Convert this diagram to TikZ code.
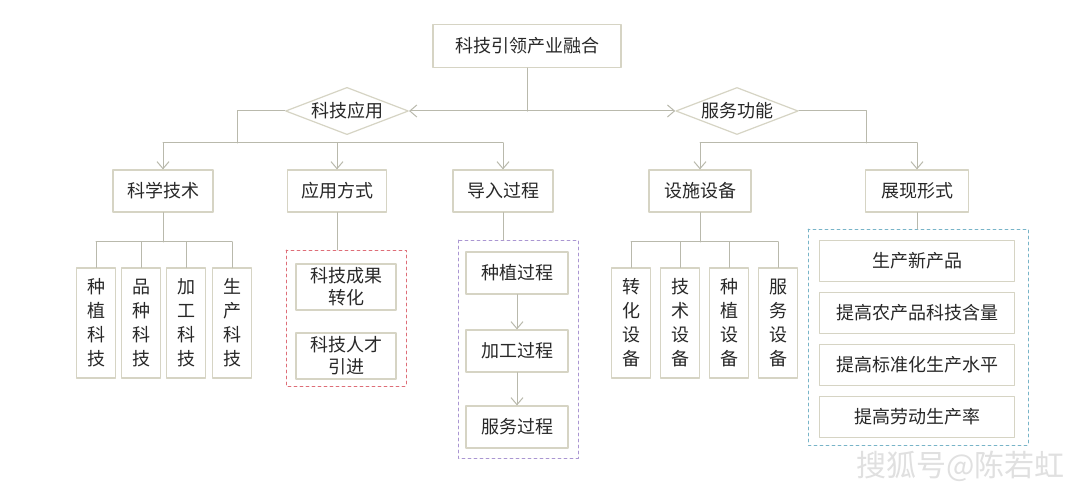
\documentclass[tikz,border=0pt]{standalone}
\usepackage{fontspec}
\setmainfont{Noto Sans CJK SC}
\usetikzlibrary{arrows.meta,positioning,shapes.geometric}
\definecolor{boxline}{RGB}{214,212,196}
\definecolor{linkgray}{RGB}{185,185,172}
\definecolor{dashred}{RGB}{222,110,120}
\definecolor{dashpurple}{RGB}{170,150,210}
\definecolor{dashteal}{RGB}{120,180,200}
\definecolor{txt}{RGB}{40,40,40}
\begin{document}
\begin{tikzpicture}[x=1pt,y=-1pt,line cap=round,line join=round,>={Straight Barb[length=7pt,width=12pt]},
  font=\fontsize{18}{22}\selectfont,
  every node/.style={text=txt},
  box/.style={draw=boxline,line width=1.2pt,fill=white,inner sep=0pt},
  vbox/.style={box,minimum width=39pt,minimum height=110pt,align=center,font=\fontsize{18}{24}\selectfont},
  dia/.style={diamond,aspect=2.6,draw=boxline,line width=1.2pt,fill=white,inner sep=1pt},
  link/.style={draw=linkgray,line width=1pt},
  group/.style={dashed,line width=0.8pt}]
  \useasboundingbox (0,0) rectangle (1080,497);
  \fill[white] (0,0) rectangle (1080,497);
  % top
  \node[box,minimum width=188pt,minimum height=43pt] (top) at (527,46) {科技引领产业融合};
  \node[dia,minimum width=116pt,minimum height=47pt] (app) at (347,111) {科技应用};
  \node[dia,minimum width=116pt,minimum height=47pt] (srv) at (737,111) {服务功能};
  \draw[link] (top.south) -- ++(0,43) coordinate (mid);
  \draw[link,<->] (app.east) -- (srv.west);
  % second row
  \node[box,minimum width=100pt,minimum height=42pt] (sci) at (163,191) {科学技术};
  \node[box,minimum width=99pt,minimum height=42pt] (way) at (337,191) {应用方式};
  \node[box,minimum width=100pt,minimum height=42pt] (imp) at (503,191) {导入过程};
  \node[box,minimum width=102pt,minimum height=42pt] (fac) at (700,191) {设施设备};
  \node[box,minimum width=103pt,minimum height=42pt] (show) at (917,191) {展现形式};
  \draw[link] (app.west) -| (237,143) coordinate (lb);
  \draw[link] (sci.north |- lb) -- (imp.north |- lb);
  \foreach \n in {sci,way,imp} \draw[link,->] (\n.north |- lb) -- (\n.north);
  \draw[link] (srv.east) -| (866,143) coordinate (rb);
  \draw[link] (fac.north |- rb) -- (show.north |- rb);
  \foreach \n in {fac,show} \draw[link,->] (\n.north |- rb) -- (\n.north);
  % vertical boxes
  \foreach \t/\x [count=\i] in {{种\\植\\科\\技}/96,{品\\种\\科\\技}/141,{加\\工\\科\\技}/186,{生\\产\\科\\技}/232}
    \node[vbox] (s\i) at (\x,323) {\t};
  \draw[link] (sci.south) -- (163,242) coordinate (sb);
  \draw[link] (s1.north |- sb) -- (s4.north |- sb);
  \foreach \i in {1,...,4} \draw[link] (s\i.north |- sb) -- (s\i.north);
  \foreach \t/\x [count=\i] in {{转\\化\\设\\备}/631,{技\\术\\设\\备}/680,{种\\植\\设\\备}/729,{服\\务\\设\\备}/778}
    \node[vbox] (f\i) at (\x,323) {\t};
  \draw[link] (fac.south) -- (700,242) coordinate (fb);
  \draw[link] (f1.north |- fb) -- (f4.north |- fb);
  \foreach \i in {1,...,4} \draw[link] (f\i.north |- fb) -- (f\i.north);
  % 应用方式 group
  \draw[group,draw=dashred] (286,250) rectangle (406,386);
  \node[box,minimum width=100pt,minimum height=46pt,align=center,font=\fontsize{18}{22}\selectfont] (w1) at (346,287) {科技成果\\转化};
  \node[box,minimum width=100pt,minimum height=46pt,align=center,font=\fontsize{18}{22}\selectfont] (w2) at (346,356) {科技人才\\引进};
  \draw[link] (way.south) -- (337,250);
  % 导入过程 group
  \draw[group,draw=dashpurple] (458,240) rectangle (578,458);
  \node[box,minimum width=102pt,minimum height=42pt] (p1) at (517,273) {种植过程};
  \node[box,minimum width=102pt,minimum height=42pt] (p2) at (517,351) {加工过程};
  \node[box,minimum width=102pt,minimum height=42pt] (p3) at (517,427) {服务过程};
  \draw[link] (imp.south) -- (503,240);
  \draw[link,->] (p1) -- (p2);
  \draw[link,->] (p2) -- (p3);
  % 展现形式 group
  \draw[group,draw=dashteal] (808,229) rectangle (1028,445);
  \foreach \t/\y [count=\i] in {生产新产品/261,提高农产品科技含量/313,提高标准化生产水平/365,提高劳动生产率/417}
    \node[box,minimum width=195pt,minimum height=41pt] (e\i) at (917,\y) {\t};
  \draw[link] (show.south) -- (917,229);
  % watermark
  \node[text=black!12,font=\fontsize{30}{34}\selectfont,anchor=east] (mark) at (1068,466) {搜狐号@陈若虹};
\end{tikzpicture}
\end{document}
